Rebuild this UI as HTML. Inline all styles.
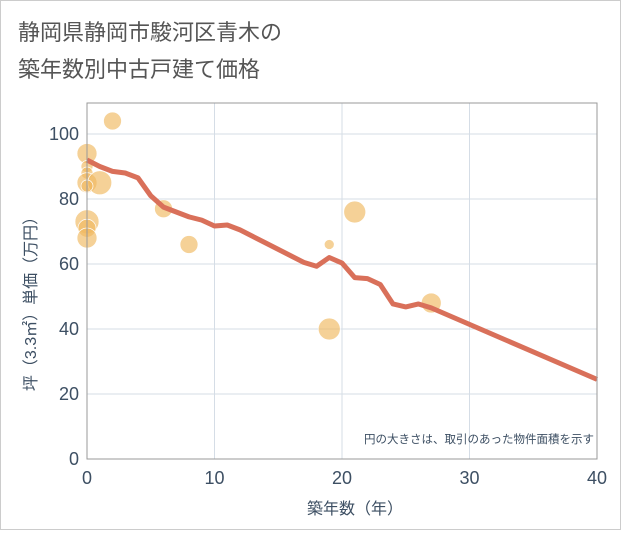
<!DOCTYPE html>
<html><head><meta charset="utf-8"><style>
body{margin:0;background:#fff;font-family:"Liberation Sans","Noto Sans CJK JP",sans-serif;}
</style></head><body>
<svg width="621" height="530" viewBox="0 0 621 530">
<rect x="0.5" y="0.5" width="620" height="529" fill="#fff" stroke="#ccc"/>
<text x="18" y="40" font-size="22" fill="#555">静岡県静岡市駿河区青木の</text>
<text x="18" y="77" font-size="22" fill="#555">築年数別中古戸建て価格</text>
<g id="grid"></g>
<g id="bubbles"></g>
<g id="line"></g>
<g id="axes"></g>
<text x="594" y="443" font-size="11.5" fill="#3d4f63" text-anchor="end">円の大きさは、取引のあった物件面積を示す</text>
<text x="355" y="514" font-size="16" fill="#3d4f63" text-anchor="middle">築年数（年）</text>
<text transform="translate(36,300) rotate(-90)" font-size="16" fill="#3d4f63" text-anchor="middle">坪（3.3㎡）単価（万円）</text>
</svg>
<script>
const xTicks=[0,10,20,30,40];
const yTicks=[0,20,40,60,80,100];
const bubbleX=[0,0,0,0,1,0,2,6,8,0,0,0,19,19,21,27];
const bubbleY=[94,90,88,85,85,84,104,77,66,73,71,68,66,40,76,48];
const bubbleR=[10,6,6,10,12,6,9,9,9,12,9,10,5,11,11,10];
const lineX=[0,1,2,3,4,5,6,7,8,9,10,11,12,13,14,15,16,17,18,19,20,21,22,23,24,25,26,27,40];
const lineY=[92,90,88.5,88,86.5,81,77.5,76,74.5,73.5,71.7,72,70.5,68.5,66.5,64.5,62.5,60.5,59.3,62,60.3,55.8,55.5,53.7,47.7,46.8,47.7,46.5,24.5];
const L=87,R=597,T=103,B=459;
const sx=v=>L+v*12.75, sy=v=>B-v*3.25;
const NS="http://www.w3.org/2000/svg";
function mk(p,t,a){const e=document.createElementNS(NS,t);for(const k in a)e.setAttribute(k,a[k]);document.getElementById(p).appendChild(e);return e;}
xTicks.forEach(v=>{const e=mk('grid','line',{x1:sx(v),x2:sx(v),y1:T,y2:B,stroke:'#d5dde6'});


const t=mk('axes','text',{x:sx(v),y:B+25,'font-size':18,fill:'#3d4f63','text-anchor':'middle'});t.textContent=v;

});
yTicks.forEach(v=>{const e=mk('grid','line',{x1:L,x2:R,y1:sy(v),y2:sy(v),stroke:'#d5dde6'});


const t=mk('axes','text',{x:L-8,y:sy(v)+6,'font-size':18,fill:'#3d4f63','text-anchor':'end'});t.textContent=v;

});
const bx=mk('axes','rect',{x:L,y:T,width:R-L,height:B-T,fill:'none',stroke:'#999'});


bubbleX.forEach((v,i)=>{const c=mk('bubbles','circle',{cx:sx(v),cy:sy(bubbleY[i]),r:bubbleR[i],fill:'#f0b860','fill-opacity':0.65,stroke:'#fff','stroke-width':0.7});

});
const p=mk('line','polyline',{points:lineX.map((v,i)=>sx(v)+','+sy(lineY[i])).join(' '),fill:'none',stroke:'#d9705a','stroke-width':5,'stroke-linejoin':'round'});


</script>
</body></html>
